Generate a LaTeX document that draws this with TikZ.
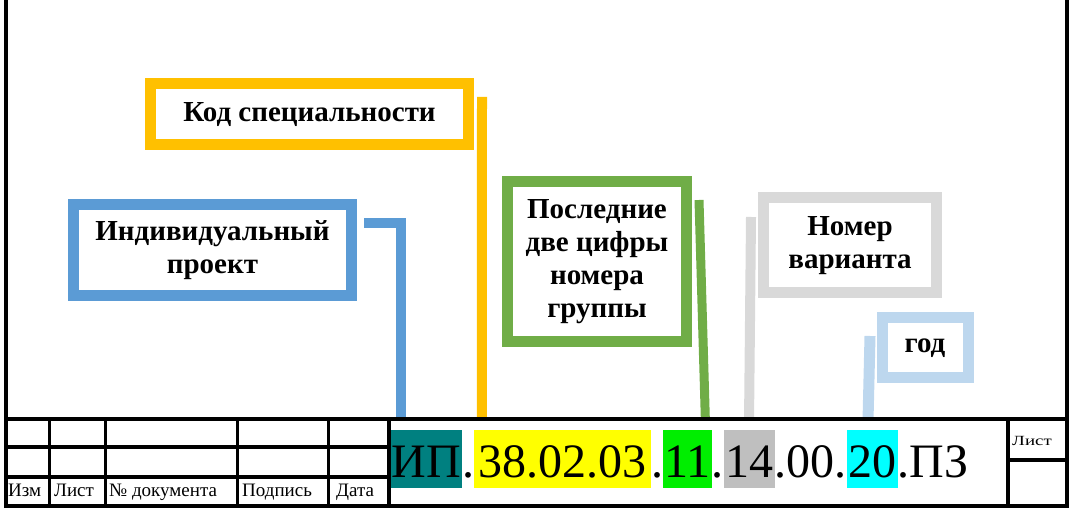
\documentclass[tikz,border=0pt]{standalone}
\usepackage{fontspec}
\setmainfont{Liberation Serif}
\usetikzlibrary{positioning}

\definecolor{indblue}{HTML}{5B9BD5}
\definecolor{specorange}{HTML}{FFC000}
\definecolor{grpgreen}{HTML}{70AD47}
\definecolor{vargray}{HTML}{D9D9D9}
\definecolor{yearblue}{HTML}{BDD7EE}
\definecolor{ipteal}{HTML}{008080}
\definecolor{kodyellow}{HTML}{FFFF00}
\definecolor{grplime}{HTML}{00EE00}
\definecolor{vargrayfill}{HTML}{BFBFBF}
\definecolor{yearcyan}{HTML}{00FFFF}

\begin{document}
\begin{tikzpicture}[
  x=1pt, y=1pt,
  frameline/.style={line width=3.5pt},
  labelbox/.style={draw, line width=11pt, outer sep=0pt, align=center,
    font=\fontsize{29}{33}\selectfont\bfseries},
  link/.style={line width=10pt},
  codepart/.style={inner sep=0pt, outer sep=0pt, text height=48pt, text depth=10pt,
    font=\fontsize{48}{56}\selectfont},
  stamptext/.style={anchor=base west, inner sep=0pt, font=\fontsize{19}{22}\selectfont},
]
\useasboundingbox (0,0) rectangle (1076,530);

% label boxes
\node[labelbox, draw=indblue, minimum width=278pt, minimum height=91pt] (ind) at (212.5,280)
  {Индивидуальный\\проект};
\node[labelbox, draw=specorange, minimum width=318pt, minimum height=61pt] (spec) at (309.5,415.5)
  {Код специальности};
\node[labelbox, draw=grpgreen, minimum width=179pt, minimum height=160.5pt] (grp) at (597,268.25)
  {Последние\\две цифры\\номера\\группы};
\node[labelbox, draw=vargray, minimum width=173pt, minimum height=95pt] (var) at (850,284.5)
  {Номер\\варианта};
\node[labelbox, draw=yearblue, minimum width=86pt, minimum height=60pt] (year) at (925,182)
  {год};

% designation line
\node[codepart, fill=ipteal, inner xsep=1.5pt, anchor=base west] (ip) at (390,52) {ИП};
\node[codepart, right=0pt of ip] (d1) {.};
\node[codepart, fill=kodyellow, inner xsep=4.5pt, right=0pt of d1] (kod) {38.02.03};
\node[codepart, right=0pt of kod] (d2) {.};
\node[codepart, fill=grplime, inner xsep=1pt, right=0pt of d2] (grpno) {11};
\node[codepart, right=0pt of grpno] (d3) {.};
\node[codepart, fill=vargrayfill, inner xsep=1.5pt, right=0pt of d3] (varno) {14};
\node[codepart, right=0pt of varno] (zeros) {.00.};
\node[codepart, fill=yearcyan, inner xsep=1.5pt, right=0pt of zeros] (yearno) {20};
\node[codepart, right=0pt of yearno] (pz) {.ПЗ};

% connectors
\draw[link, draw=indblue] ([shift={(12.5pt,27pt)}]ind.east) -| ([shift={(11pt,11pt)}]ip.north west);
\draw[link, draw=specorange] ([shift={(13.5pt,-13pt)}]spec.north east) -- ([shift={(7.5pt,11pt)}]kod.north west);
\draw[link, draw=grpgreen, line width=9pt] ([shift={(12.5pt,-18.5pt)}]grp.north east) -- ([shift={(42pt,11pt)}]grpno.north west);
\draw[link, draw=vargray] ([shift={(-12.5pt,-19pt)}]var.north west) -- ([yshift=11pt]varno.north);
\draw[link, draw=yearblue, line width=11pt] ([shift={(-12pt,-18pt)}]year.north west) -- ([shift={(21.5pt,11pt)}]yearno.north west);

% frame and title block
\draw[frameline, line width=4pt] (6,530) -- (6,24) -- (1067,24) -- (1067,530);
\draw[frameline] (6,111) -- (1067,111);
\draw[frameline] (6,83) -- (389,83) (6,53) -- (389,53);
\foreach \x in {49.5,105.5,237.5,328.5,389}
  \draw[frameline] (\x,111) -- (\x,24);
\draw[frameline] (1008,111) -- (1008,24) (1008,70) -- (1067,70);

\node[stamptext] (izm) at (8,33) {Изм};
\node[stamptext] (list) at (54,33) {Лист};
\node[stamptext] (docno) at (109,33) {№ документа};
\node[stamptext] (sign) at (242,33) {Подпись};
\node[stamptext] (date) at (336,33) {Дата};
\node[stamptext, font=\fontsize{14}{16}\selectfont] (sheet) at (1012,84) {\scalebox{1.35}[1]{Лист}};

\end{tikzpicture}
\end{document}
